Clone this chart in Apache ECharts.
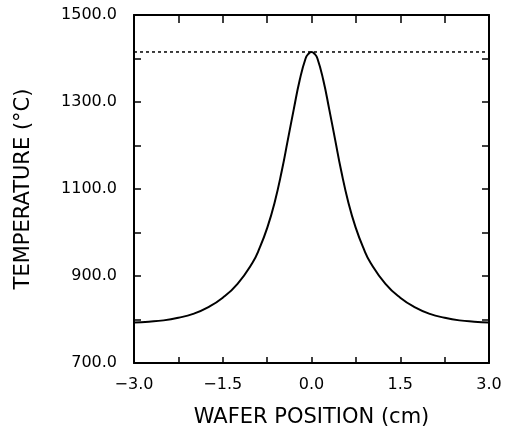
<!DOCTYPE html>
<html>
<head>
<meta charset="utf-8">
<script src="https://cdn.jsdelivr.net/npm/echarts@6/dist/echarts.min.js"></script>
<style>
  html, body { margin: 0; padding: 0; background: #fff; }
  #main { width: 509px; height: 437px; }
</style>
</head>
<body>
<div id="main"></div>
<script>
// wafer position (cm) and temperature (°C)
const positions = [-3.0, -2.75, -2.5, -2.25, -2.0, -1.75, -1.5, -1.25, -1.0, -0.875, -0.75, -0.625, -0.5, -0.4, -0.3, -0.2, -0.1, -0.05, 0.0,
  0.05, 0.1, 0.2, 0.3, 0.4, 0.5, 0.625, 0.75, 0.875, 1.0, 1.25, 1.5, 1.75, 2.0, 2.25, 2.5, 2.75, 3.0];
const temps = [793, 795, 798, 804, 813, 828, 850, 882, 930, 965, 1010, 1068, 1143, 1213, 1283, 1350, 1400, 1411, 1415,
  1411, 1400, 1350, 1283, 1213, 1143, 1068, 1010, 965, 930, 882, 850, 828, 813, 804, 798, 795, 793];
// melting point line
const meltX = [-3.0, 3.0];
const meltT = [1415, 1415];

const fontFam = '"DejaVu Sans", sans-serif';
const lineStyle = { color: '#000', width: 2 };

const myChart = echarts.init(document.getElementById('main'));

function xLabel(v) {
  const k = Math.round((v + 3) / 0.75);
  if (k % 2 !== 0) return '';
  return v.toFixed(1).replace('-', '\u2212');
}
function yLabel(v) {
  if ((v - 700) % 200 !== 0) return '';
  return v.toFixed(1);
}

myChart.setOption({
  animation: false,
  grid: { left: 134, right: 20, top: 15, bottom: 74 },
  xAxis: [{
    type: 'value', min: -3, max: 3, interval: 0.75,
    name: 'WAFER POSITION (cm)', nameLocation: 'middle', nameGap: 44,
    nameTextStyle: { fontFamily: fontFam, fontSize: 21, color: '#000' },
    axisLine: { show: true, onZero: false, lineStyle: lineStyle },
    axisTick: { inside: true, length: 6, lineStyle: { color: '#000', width: 1.5 } },
    axisLabel: { formatter: xLabel, fontFamily: fontFam, fontSize: 16, color: '#000', margin: 14 },
    splitLine: { show: false }
  }, {
    type: 'value', min: -3, max: 3, interval: 0.75, position: 'top',
    axisLine: { show: true, onZero: false, lineStyle: lineStyle },
    axisTick: { inside: true, length: 8, lineStyle: { color: '#000', width: 1.5 } },
    axisLabel: { show: false },
    splitLine: { show: false }
  }],
  yAxis: [{
    type: 'value', min: 700, max: 1500, interval: 100,
    name: 'TEMPERATURE (\u00b0C)', nameLocation: 'middle', nameGap: 100,
    nameTextStyle: { fontFamily: fontFam, fontSize: 21, color: '#000' },
    axisLine: { show: true, onZero: false, lineStyle: lineStyle },
    axisTick: { inside: true, length: 7, lineStyle: { color: '#000', width: 1.5 } },
    axisLabel: { formatter: yLabel, fontFamily: fontFam, fontSize: 16, color: '#000', margin: 17 },
    splitLine: { show: false }
  }, {
    type: 'value', min: 700, max: 1500, interval: 100, position: 'right',
    axisLine: { show: true, onZero: false, lineStyle: lineStyle },
    axisTick: { inside: true, length: 7, lineStyle: { color: '#000', width: 1.5 } },
    axisLabel: { show: false },
    splitLine: { show: false }
  }],
  series: [{
    type: 'line',
    data: positions.map((x, i) => [x, temps[i]]),
    smooth: 0.5,
    showSymbol: false,
    lineStyle: { color: '#000', width: 2 }
  }, {
    type: 'line',
    data: meltX.map((x, i) => [x, meltT[i]]),
    showSymbol: false,
    lineStyle: { color: '#000', width: 1.5, type: [3, 3] }
  }]
});
</script>
</body>
</html>
